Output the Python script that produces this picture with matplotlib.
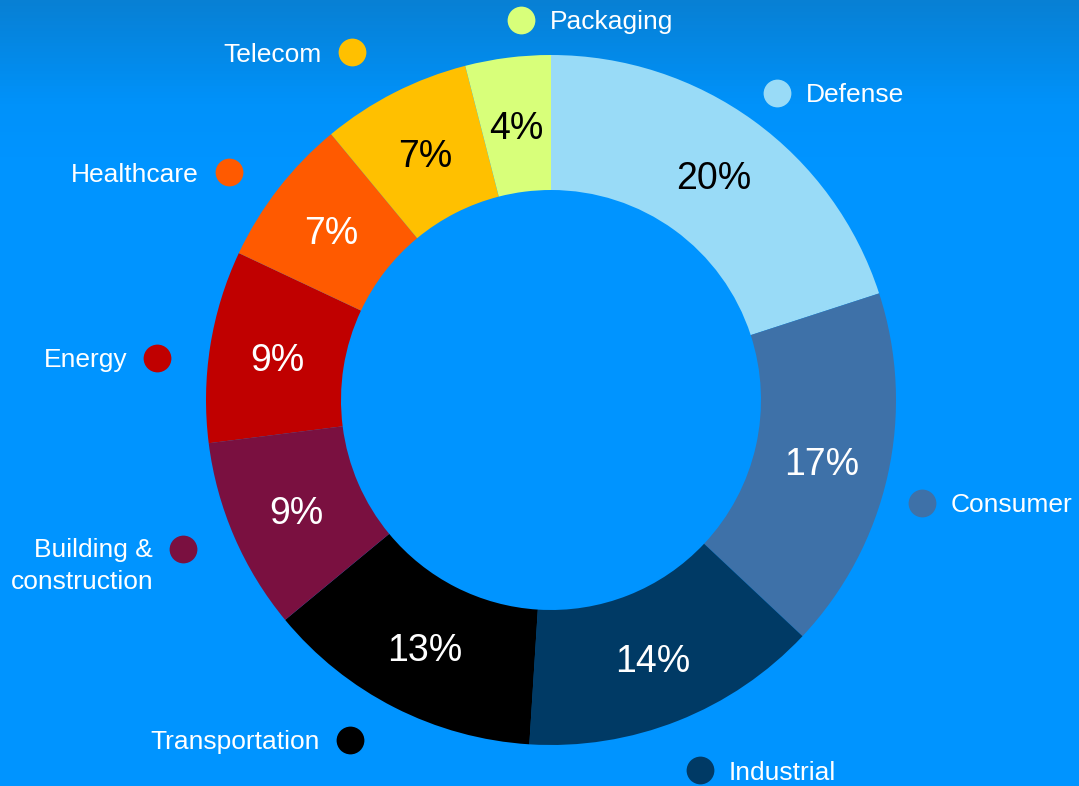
import numpy as np
import matplotlib
matplotlib.use("Agg")
import matplotlib.pyplot as plt
from matplotlib.colors import LinearSegmentedColormap

# Data
sectors = ["Defense", "Consumer", "Industrial", "Transportation",
           "Building &\nconstruction", "Energy", "Healthcare", "Telecom", "Packaging"]
shares = [20, 17, 14, 13, 9, 9, 7, 7, 4]
colors = ["#99DBF7", "#3E71A8", "#003A65", "#000000", "#7A1040",
          "#C00000", "#FF5A00", "#FFC000", "#D8FF7A"]
pct_colors = ["black", "white", "white", "white", "white",
              "white", "white", "black", "black"]

# layout: label marker centres (pixels from top-left) and text side
label_xy = [(777, 93), (922, 503), (700, 770), (350, 740), (183, 549),
            (157, 358), (229, 172), (352, 52), (521, 20)]
label_side = ["right", "right", "right", "left", "left",
              "left", "left", "left", "right"]

W, H = 1079, 786
fig = plt.figure(figsize=(W / 100, H / 100), dpi=100)

# background gradient
bg = fig.add_axes([0, 0, 1, 1])
bg.axis("off")
grad = LinearSegmentedColormap.from_list(
    "bg", [(0, "#0880D4"), (0.13, "#0092FA"), (0.2, "#0094FF"), (1, "#0094FF")])
bg.imshow(np.linspace(0, 1, 256).reshape(-1, 1), aspect="auto", cmap=grad,
          extent=[0, 1, 0, 1], origin="upper")
bg.set_xlim(0, 1)
bg.set_ylim(0, 1)

ax = fig.add_axes([0, 0, 1, 1])
ax.patch.set_alpha(0)
cx, cy = 551, H - 400
R, r_in = 345, 210

wedges, _ = ax.pie(shares, colors=colors, startangle=90, counterclock=False,
                   center=(cx, cy), radius=R,
                   wedgeprops=dict(width=R - r_in, linewidth=0))

mid_r = (R + r_in) / 2
for w, name, val, pc, col, (px, py), side in zip(
        wedges, sectors, shares, pct_colors, colors, label_xy, label_side):
    ang = np.deg2rad((w.theta1 + w.theta2) / 2)
    ax.text(cx + mid_r * np.cos(ang), cy + mid_r * np.sin(ang), f"{val}%",
            color=pc, fontsize=27, ha="center", va="center_baseline",
            family="Liberation Sans")
    mx, my = px, H - py
    ax.plot(mx, my, "o", ms=20, color=col, mec="none")
    dy = -11 if "\n" in name else 0
    if side == "right":
        ax.text(mx + 29, my + dy, name, color="white", fontsize=19,
                ha="left", va="center_baseline", family="Liberation Sans")
    else:
        ax.text(mx - 30, my + dy, name, color="white", fontsize=19,
                ha="right", va="center_baseline", multialignment="right",
                family="Liberation Sans", linespacing=1.4)

ax.set_xlim(0, W)
ax.set_ylim(0, H)
ax.set_aspect("auto")
ax.axis("off")

fig.savefig("out.png", dpi=100)
